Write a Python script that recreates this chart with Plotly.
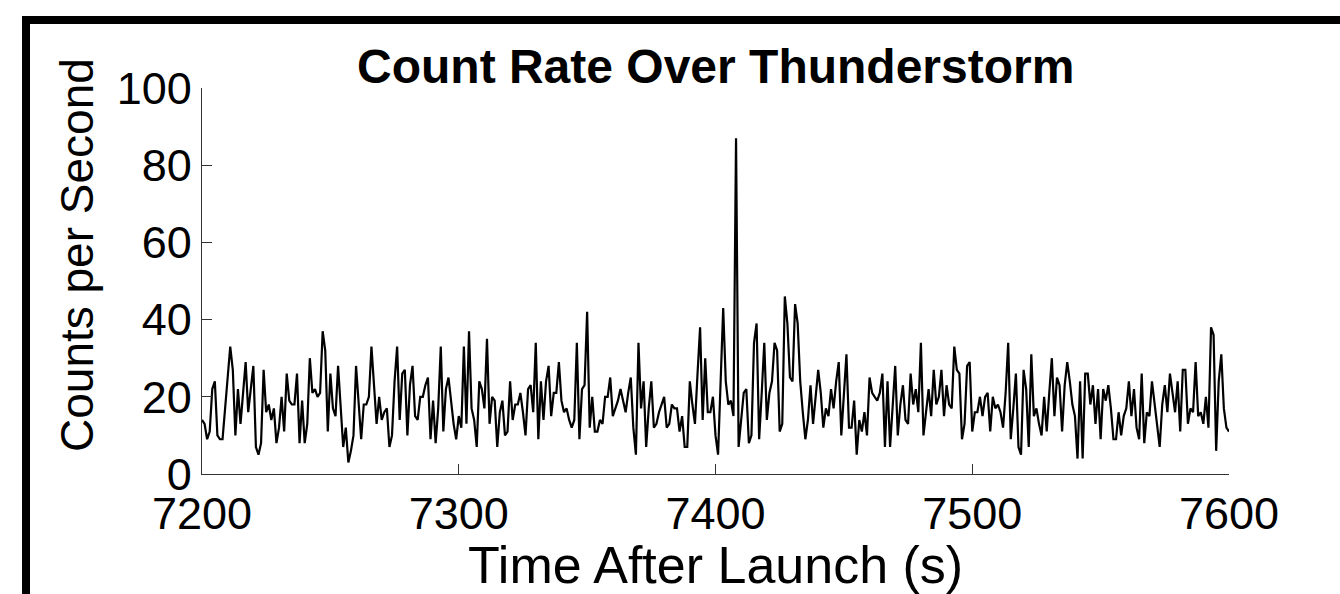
import plotly.graph_objects as go

# ---- data ----
times = list(range(7200, 7601))
counts = [
    # 7200-7249
    14, 13, 9, 11, 22, 24, 10, 9, 9, 16, 25, 33, 27, 10, 22, 13, 21, 29, 16, 22,
    28, 7, 5, 8, 27, 16, 18, 14, 17, 8, 12, 20, 11, 26, 19, 18, 18, 26, 8, 19,
    8, 13, 30, 21, 22, 20, 21, 37, 32, 11,
    # 7250-7299
    26, 17, 15, 28, 17, 7, 12, 3, 6, 10, 28, 18, 9, 18, 18, 20, 33, 23, 13, 20,
    14, 16, 17, 7, 10, 24, 33, 14, 26, 27, 10, 23, 28, 15, 14, 20, 20, 23, 25, 9,
    19, 8, 17, 33, 11, 22, 25, 19, 13, 9,
    # 7300-7349
    15, 12, 33, 13, 37, 17, 14, 7, 24, 22, 17, 35, 13, 20, 19, 7, 16, 19, 10, 11,
    24, 14, 18, 18, 21, 16, 10, 22, 23, 16, 34, 9, 24, 14, 24, 28, 15, 21, 21, 29,
    19, 16, 17, 14, 12, 14, 34, 9, 22, 23,
    # 7350-7399
    42, 12, 20, 11, 11, 14, 13, 20, 20, 25, 15, 17, 19, 22, 19, 16, 21, 25, 12, 5,
    34, 17, 24, 7, 17, 24, 12, 13, 16, 18, 20, 12, 13, 18, 17, 17, 11, 15, 7, 7,
    24, 18, 13, 26, 38, 14, 30, 16, 16, 20,
    # 7400-7449
    10, 5, 24, 43, 24, 18, 19, 15, 87, 7, 14, 21, 22, 8, 10, 34, 39, 9, 21, 34,
    14, 21, 24, 34, 32, 11, 13, 46, 39, 25, 24, 44, 39, 24, 16, 9, 14, 23, 13, 20,
    27, 21, 12, 17, 15, 22, 17, 24, 29, 10,
    # 7450-7499
    20, 31, 12, 12, 19, 5, 14, 11, 16, 10, 25, 21, 20, 19, 21, 26, 7, 24, 7, 17,
    28, 10, 18, 23, 14, 13, 26, 18, 22, 16, 34, 10, 17, 22, 15, 27, 18, 20, 27, 15,
    23, 18, 17, 33, 27, 26, 9, 13, 28, 29,
    # 7500-7549
    11, 16, 16, 20, 15, 20, 21, 11, 20, 17, 18, 16, 12, 21, 34, 9, 17, 26, 7, 5,
    27, 22, 7, 31, 15, 17, 13, 10, 20, 11, 21, 30, 15, 25, 23, 11, 23, 29, 24, 18,
    15, 4, 24, 4, 26, 26, 18, 23, 13, 22,
    # 7550-7600
    9, 22, 19, 23, 17, 9, 9, 16, 10, 15, 17, 24, 15, 22, 12, 9, 26, 8, 16, 15,
    24, 18, 13, 7, 18, 23, 16, 26, 21, 16, 24, 11, 27, 27, 13, 17, 16, 29, 15, 16,
    13, 20, 12, 38, 36, 6, 24, 31, 17, 12, 11,
]
x_ticks = [7200, 7300, 7400, 7500, 7600]
y_ticks = [0, 20, 40, 60, 80, 100]

title_text = "Count Rate Over Thunderstorm"
x_title = "Time After Launch (s)"
y_title = "Counts per Second"

# ---- layout geometry (pixels) ----
W, H = 1340, 594
L, R, T, B = 202, 1229, 88, 474
pw, ph = R - L, B - T


def px_x(x):
    return (x - L) / pw


def px_y(y):
    return (B - y) / ph


FONT = "Liberation Sans, Arial, sans-serif"

fig = go.Figure()
fig.add_trace(go.Scatter(x=times, y=counts, mode="lines",
                         line=dict(color="black", width=2.2),
                         showlegend=False, hoverinfo="x+y"))

axis_common = dict(showgrid=False, zeroline=False, showline=True,
                   linecolor="#333", linewidth=1.2, ticks="inside",
                   ticklen=10, tickwidth=1.2, tickcolor="#333",
                   tickfont=dict(family=FONT, size=45, color="black"),
                   mirror=False)

fig.update_layout(
    width=W, height=H,
    margin=dict(l=L, r=W - R, t=T, b=H - B, pad=0),
    paper_bgcolor="white", plot_bgcolor="white",
    xaxis=dict(range=[7200, 7600], tickvals=x_ticks, **axis_common),
    yaxis=dict(range=[0, 100], tickvals=y_ticks, **axis_common),
    annotations=[
        dict(text="<b>" + title_text + "</b>", xref="paper", yref="paper",
             x=0.5, y=px_y(66), xanchor="center", yanchor="middle",
             showarrow=False, font=dict(family=FONT, size=48, color="black")),
        dict(text=x_title, xref="paper", yref="paper",
             x=0.5, y=px_y(565), xanchor="center", yanchor="middle",
             showarrow=False, font=dict(family=FONT, size=52, color="black")),
        dict(text=y_title, xref="paper", yref="paper", textangle=-90,
             x=px_x(77), y=px_y(255), xanchor="center", yanchor="middle",
             showarrow=False, font=dict(family=FONT, size=46, color="black")),
    ],
    shapes=[
        # thick black frame (top and left edges)
        dict(type="rect", xref="paper", yref="paper", layer="above",
             x0=px_x(22), x1=px_x(1345), y0=px_y(24), y1=px_y(16),
             fillcolor="black", line=dict(width=0)),
        dict(type="rect", xref="paper", yref="paper", layer="above",
             x0=px_x(22), x1=px_x(30), y0=px_y(600), y1=px_y(16),
             fillcolor="black", line=dict(width=0)),
    ],
)

fig.write_html("out.html")
